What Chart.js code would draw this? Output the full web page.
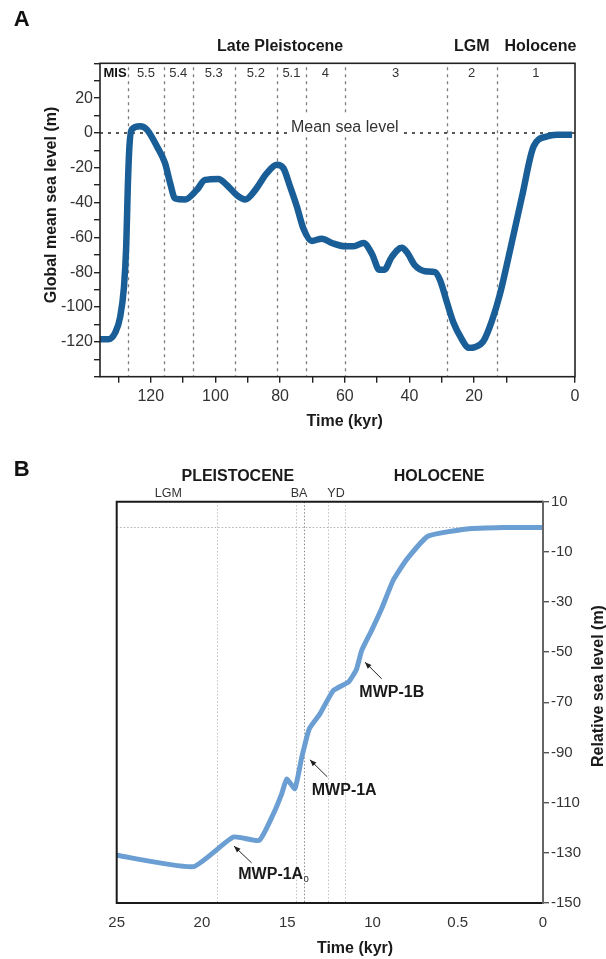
<!DOCTYPE html>
<html><head><meta charset="utf-8">
<script src="https://cdn.jsdelivr.net/npm/chart.js@4/dist/chart.umd.min.js"></script>
<style>
html,body{margin:0;padding:0;background:#fff;width:606px;height:959px;overflow:hidden}
canvas{position:absolute;left:0}
#ca{top:0}
#cb{top:450px}
</style></head><body>
<canvas id="ca" width="606" height="450"></canvas>
<canvas id="cb" width="606" height="509"></canvas>
<script>
// ---------- Panel A data ----------
const timeA = [135.7, 133.1, 131.0, 129.5, 128.3, 127.6, 127.1, 126.6, 125.9, 123.3, 121.2, 118.1, 115.6, 114.0, 112.5, 109.4, 105.8, 103.2, 99.1, 96.5, 93.4, 90.8, 87.7, 84.1, 81.0, 79.0, 76.9, 74.8, 72.8, 70.2, 67.1, 64.0, 59.9, 57.3, 54.2, 51.6, 49.3, 47.8, 45.5, 42.4, 40.8, 38.3, 35.2, 32.1, 30.5, 28.4, 26.4, 23.8, 21.7, 19.7, 17.1, 14.5, 12.0, 8.9, 5.2, 1.6, -2.5, -5.6, -10.3];
const levelA = [-118.5, -118.5, -114.7, -106, -88.7, -65.5, -30.9, -7.7, 1.9, 3.8, 1.9, -7.7, -17.3, -28.9, -37.6, -38.2, -32.8, -27, -26.4, -29.9, -35.7, -38.2, -32.8, -23.1, -18.3, -20.2, -30.9, -42.4, -54.9, -62, -60.7, -63.2, -65.1, -65.1, -63.2, -69.4, -78.6, -78.6, -71.3, -65.9, -68.4, -76.1, -79.4, -80, -84.8, -97.3, -108.9, -118.5, -123.4, -123, -119.5, -107.9, -92.5, -67.5, -36.6, -7.7, -2, -1, -1];
const misBounds = [127, 116, 107, 94, 81, 72, 60, 28.5, 13];
const misLabels = ['5.5', '5.4', '5.3', '5.2', '5.1', '4', '3', '2', '1'];
const xTickLabelsA = [120, 100, 80, 60, 40, 20];
const yTickLabelsA = [20, 0, -20, -40, -60, -80, -100, -120];
const xMinA = -11.2, xMaxA = 135.7;

// ---------- Panel B data ----------
const timeB = [25, 20.5, 18.16, 16.64, 15.82, 15.33, 15.03, 14.55, 14.15, 13.71, 13.08, 12.3, 11.4, 10.95, 10.63, 10.05, 9.46, 8.78, 7.99, 6.73, 4.47, 2.33, 0];
const levelB = [-131, -135.5, -123.7, -125, -114.6, -106.6, -100.6, -104.4, -92, -80.6, -74.6, -65.3, -61.8, -57, -49.3, -41.3, -32.6, -21.3, -13, -3.7, -0.9, -0.3, -0.3];
const xTicksB = [25, 20, 15, 10, 5, 0];
const xTickLabelsB = ['25', '20', '15', '10', '0.5', '0'];
const yTicksB = [10, -10, -30, -50, -70, -90, -110, -130, -150];
const periodLinesB = [19.1, 14.5, 14.0, 12.6, 11.6];

const FONT = "'Liberation Sans', Arial, Helvetica, sans-serif";

function txt(ctx, s, x, y, size, bold, color, align) {
  ctx.font = (bold ? 'bold ' : '') + size + 'px ' + FONT;
  ctx.fillStyle = color || '#222';
  ctx.textAlign = align || 'center';
  ctx.textBaseline = 'middle';
  ctx.fillText(s, x, y);
}

const panelAExtras = {
  id: 'panelAExtras',
  beforeDatasetsDraw(chart) {
    const {ctx, chartArea: a, scales: {x, y}} = chart;
    ctx.save();
    ctx.beginPath(); ctx.rect(a.left, a.top, a.right - a.left, a.bottom - a.top); ctx.clip();
    ctx.strokeStyle = '#7d7d7d'; ctx.lineWidth = 1.3; ctx.setLineDash([3, 4]);
    misBounds.forEach(b => {
      const px = Math.round(x.getPixelForValue(b)) + 0.5;
      ctx.beginPath(); ctx.moveTo(px, a.top + 4); ctx.lineTo(px, a.bottom); ctx.stroke();
    });
    const y0 = y.getPixelForValue(0);
    ctx.strokeStyle = '#222'; ctx.lineWidth = 1.6; ctx.setLineDash([3, 5]);
    ctx.beginPath(); ctx.moveTo(a.left, y0); ctx.lineTo(a.right, y0); ctx.stroke();
    ctx.setLineDash([]);
    ctx.font = '16px ' + FONT;
    const tw = ctx.measureText('Mean sea level').width;
    const cx = x.getPixelForValue(60);
    ctx.fillStyle = '#fff';
    ctx.fillRect(cx - tw / 2 - 3, y0 - 17, tw + 6, 19);
    ctx.fillStyle = '#333'; ctx.textAlign = 'center'; ctx.textBaseline = 'alphabetic';
    ctx.fillText('Mean sea level', cx, y0 - 1);
    ctx.restore();
  },
  afterDraw(chart) {
    const {ctx, chartArea: a, scales: {x, y}} = chart;
    ctx.save();
    ctx.strokeStyle = '#222'; ctx.lineWidth = 1.6;
    ctx.strokeRect(a.left, a.top, a.right - a.left, a.bottom - a.top);
    txt(ctx, 'A', 21.7, 20, 22, true, '#111');
    txt(ctx, 'Late Pleistocene', x.getPixelForValue(80), 46.7, 16, true, '#1a1a1a');
    txt(ctx, 'LGM', x.getPixelForValue(20.7), 46.7, 16, true, '#1a1a1a');
    txt(ctx, 'Holocene', x.getPixelForValue(-0.5), 46.7, 16, true, '#1a1a1a');
    // MIS row
    const rowY = 73.5;
    txt(ctx, 'MIS', (a.left + x.getPixelForValue(misBounds[0])) / 2 + 1, rowY, 13, true, '#111');
    const edges = misBounds.concat([xMinA]);
    misLabels.forEach((l, i) => {
      const c = (x.getPixelForValue(edges[i]) + x.getPixelForValue(edges[i + 1])) / 2;
      txt(ctx, l, c, rowY, 13, false, '#333');
    });
    // axis titles
    txt(ctx, 'Time (kyr)', 344.7, 421.7, 16, true, '#1a1a1a');
    ctx.translate(51.7, 205);
    ctx.rotate(-Math.PI / 2);
    txt(ctx, 'Global mean sea level (m)', 0, 0, 16, true, '#1a1a1a');
    ctx.restore();
  }
};

new Chart(document.getElementById('ca'), {
  type: 'line',
  data: {
    datasets: [{
      data: timeA.map((t, i) => ({x: t, y: levelA[i]})),
      borderColor: '#1a5e98', borderWidth: 6.5, pointRadius: 0,
      cubicInterpolationMode: 'monotone', fill: false,
      borderJoinStyle: 'round', borderCapStyle: 'butt'
    }]
  },
  options: {
    responsive: false, animation: false, events: [],
    layout: {padding: {left: 0, top: 63.3, right: 31, bottom: 33.3}},
    plugins: {legend: {display: false}, tooltip: {enabled: false}},
    scales: {
      x: {
        type: 'linear', reverse: true, min: xMinA, max: xMaxA,
        afterBuildTicks: s => {
          const t = [];
          for (let v = 130; v >= 10; v -= 10) t.push({value: v});
          t.push({value: xMinA});
          s.ticks = t;
        },
        afterFit: s => { s.height = 40; },
        border: {display: false},
        grid: {drawOnChartArea: false, drawTicks: true, tickLength: 6, tickColor: '#222', lineWidth: 1.4},
        ticks: {
          autoSkip: false, maxRotation: 0, padding: 4, color: '#333',
          font: {family: FONT, size: 16},
          callback: v => v === xMinA ? '0' : (xTickLabelsA.includes(v) ? String(v) : '')
        }
      },
      y: {
        type: 'linear', min: -140, max: 40,
        afterBuildTicks: s => {
          const t = [];
          for (let v = 40; v >= -140; v -= 10) t.push({value: v});
          s.ticks = t;
        },
        afterFit: s => { s.width = 100; },
        border: {display: false},
        grid: {drawOnChartArea: false, drawTicks: true, tickLength: 6, tickColor: '#222', lineWidth: 1.4},
        ticks: {
          autoSkip: false, padding: 1, color: '#333',
          font: {family: FONT, size: 16},
          callback: v => yTickLabelsA.includes(v) ? String(v) : ''
        }
      }
    }
  },
  plugins: [panelAExtras]
});

// ---------- Panel B ----------
function arrow(ctx, x1, y1, x2, y2) {
  ctx.strokeStyle = '#222'; ctx.fillStyle = '#222'; ctx.lineWidth = 1;
  ctx.beginPath(); ctx.moveTo(x1, y1); ctx.lineTo(x2, y2); ctx.stroke();
  const ang = Math.atan2(y2 - y1, x2 - x1), L = 7, W = 0.38;
  ctx.beginPath();
  ctx.moveTo(x2, y2);
  ctx.lineTo(x2 - L * Math.cos(ang - W), y2 - L * Math.sin(ang - W));
  ctx.lineTo(x2 - L * Math.cos(ang + W), y2 - L * Math.sin(ang + W));
  ctx.closePath(); ctx.fill();
}

const panelBExtras = {
  id: 'panelBExtras',
  beforeDatasetsDraw(chart) {
    const {ctx, chartArea: a, scales: {x, y}} = chart;
    ctx.save();
    ctx.strokeStyle = '#b8b8b8'; ctx.lineWidth = 1; ctx.setLineDash([1.5, 2]);
    periodLinesB.forEach((v, i) => {
      const px = Math.round(x.getPixelForValue(v)) + 0.5;
      ctx.strokeStyle = i === 2 ? '#8a8a8a' : '#c0c0c0';
      ctx.beginPath(); ctx.moveTo(px, a.top); ctx.lineTo(px, a.bottom); ctx.stroke();
    });
    const y0 = Math.round(y.getPixelForValue(0)) + 0.5;
    ctx.strokeStyle = '#b0b0b0';
    ctx.beginPath(); ctx.moveTo(a.left, y0); ctx.lineTo(a.right, y0); ctx.stroke();
    ctx.restore();
  },
  afterDraw(chart) {
    const {ctx, chartArea: a, scales: {x, y}} = chart;
    ctx.save();
    ctx.lineWidth = 2; ctx.strokeStyle = '#1a1a1a';
    ctx.beginPath();
    ctx.moveTo(a.right, a.top); ctx.lineTo(a.left, a.top); ctx.lineTo(a.left, a.bottom); ctx.lineTo(a.right, a.bottom);
    ctx.stroke();
    ctx.strokeStyle = '#666';
    ctx.beginPath(); ctx.moveTo(a.right, a.top - 1); ctx.lineTo(a.right, a.bottom + 1); ctx.stroke();

    txt(ctx, 'B', 21.7, 20, 22, true, '#111');
    txt(ctx, 'PLEISTOCENE', x.getPixelForValue(17.9), 26.7, 16, true, '#1a1a1a');
    txt(ctx, 'HOLOCENE', x.getPixelForValue(6.1), 26.7, 16, true, '#1a1a1a');
    txt(ctx, 'LGM', x.getPixelForValue(21.97), 44, 12.5, false, '#333');
    txt(ctx, 'BA', x.getPixelForValue(14.31), 44, 12.5, false, '#333');
    txt(ctx, 'YD', x.getPixelForValue(12.14), 44, 12.5, false, '#333');

    // annotations
    const P = (t, m) => [x.getPixelForValue(t), y.getPixelForValue(m)];
    let p1 = P(17.09, -134.0), p2 = P(18.12, -127.3);
    arrow(ctx, p1[0], p1[1], p2[0], p2[1]);
    let lp = P(17.87, -138.6);
    txt(ctx, 'MWP-1A', lp[0], lp[1], 16, true, '#1a1a1a', 'left');
    ctx.font = 'bold 16px ' + FONT;
    const w = ctx.measureText('MWP-1A').width;
    txt(ctx, '0', lp[0] + w + 0.5, lp[1] + 5, 9, false, '#1a1a1a', 'left');

    p1 = P(12.65, -99.7); p2 = P(13.67, -92.9);
    arrow(ctx, p1[0], p1[1], p2[0], p2[1]);
    lp = P(13.56, -105.3);
    txt(ctx, 'MWP-1A', lp[0], lp[1], 16, true, '#1a1a1a', 'left');

    p1 = P(9.46, -60.6); p2 = P(10.44, -54);
    arrow(ctx, p1[0], p1[1], p2[0], p2[1]);
    lp = P(10.77, -66);
    txt(ctx, 'MWP-1B', lp[0], lp[1], 16, true, '#1a1a1a', 'left');

    txt(ctx, 'Time (kyr)', 355, 499, 16, true, '#1a1a1a');
    ctx.translate(599, 236);
    ctx.rotate(-Math.PI / 2);
    txt(ctx, 'Relative sea level (m)', 0, 0, 16, true, '#1a1a1a');
    ctx.restore();
  }
};

new Chart(document.getElementById('cb'), {
  type: 'line',
  data: {
    datasets: [{
      data: timeB.map((t, i) => ({x: t, y: levelB[i]})),
      borderColor: '#6b9fd3', borderWidth: 5, pointRadius: 0,
      tension: 0.15, fill: false, borderJoinStyle: 'round', borderCapStyle: 'butt'
    }]
  },
  options: {
    responsive: false, animation: false, events: [],
    layout: {padding: {left: 116.7, top: 51.7, right: 0, bottom: 16}},
    plugins: {legend: {display: false}, tooltip: {enabled: false}},
    scales: {
      x: {
        type: 'linear', reverse: true, min: 0, max: 25,
        afterBuildTicks: s => { s.ticks = xTicksB.map(v => ({value: v})); },
        afterFit: s => { s.height = 40; },
        border: {display: false},
        grid: {drawOnChartArea: false, drawTicks: false},
        ticks: {
          autoSkip: false, maxRotation: 0, padding: 11, color: '#333',
          font: {family: FONT, size: 15},
          callback: v => xTickLabelsB[xTicksB.indexOf(v)]
        }
      },
      y: {
        type: 'linear', position: 'right', min: -150, max: 10,
        afterBuildTicks: s => { s.ticks = yTicksB.map(v => ({value: v})); },
        afterFit: s => { s.width = 63; },
        border: {display: false},
        grid: {drawOnChartArea: false, drawTicks: true, tickLength: 6, tickColor: '#555', lineWidth: 1.4},
        ticks: {
          autoSkip: false, padding: 2, color: '#333',
          font: {family: FONT, size: 15},
          callback: v => String(v)
        }
      }
    }
  },
  plugins: [panelBExtras]
});
</script>
</body></html>
